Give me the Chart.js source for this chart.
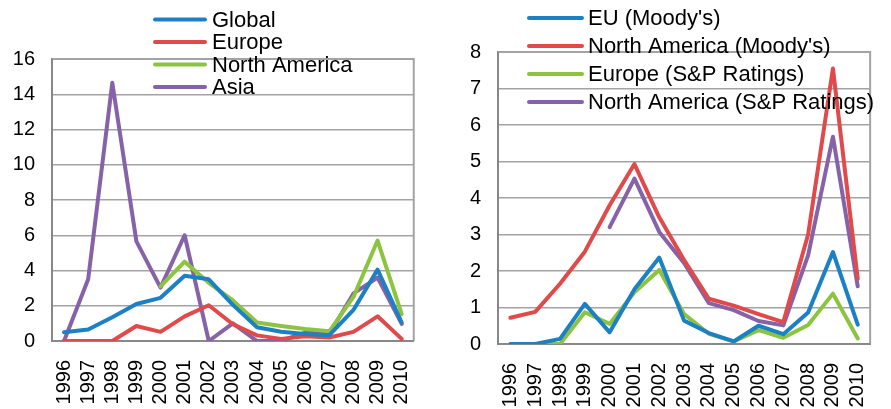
<!DOCTYPE html>
<html><head><meta charset="utf-8">
<script src="https://cdn.jsdelivr.net/npm/chart.js@4/dist/chart.umd.min.js"></script>
<style>
html,body{margin:0;padding:0;background:#fff;overflow:hidden;width:891px;height:409px;position:relative;font-family:"Liberation Sans",Arial,sans-serif;}
#c1{position:absolute;left:0;top:0;}
#c2{position:absolute;left:445px;top:0;}
#title{position:absolute;left:385px;top:-22px;font:bold 20px "Liberation Sans",Arial,sans-serif;white-space:nowrap;color:#000;}
</style>
</head><body>
<div id="title">(% p.a.)</div>
<canvas id="c1" width="445" height="409"></canvas>
<canvas id="c2" width="456" height="409"></canvas>
<script>
const years = ['1996','1997','1998','1999','2000','2001','2002','2003','2004','2005','2006','2007','2008','2009','2010'];

// Left chart
const leftLabels = ['Global','Europe','North America','Asia'];
const globalRates = [0.5,0.65,1.35,2.1,2.45,3.7,3.5,2.05,0.78,0.52,0.4,0.33,1.76,4.05,1.05];
const europeRates = [0,0,0,0.85,0.52,1.4,2.03,0.95,0.32,0.12,0.27,0.2,0.52,1.4,0.12];
const northAmericaRates = [null,null,null,null,3.1,4.5,3.3,2.3,1.05,0.85,0.68,0.55,2.5,5.7,1.52];
const asiaRates = [0,3.5,14.65,5.65,3.03,6.0,0,1.0,0,0,0.48,0.4,2.7,3.6,0.97];

// Right chart
const rightLabels = ["EU (Moody's)","North America (Moody's)","Europe (S&P Ratings)","North America (S&P Ratings)"];
const euMoodys = [0,0,0.14,1.1,0.32,1.5,2.37,0.64,0.3,0.07,0.5,0.27,0.86,2.52,0.53];
const naMoodys = [0.72,0.88,1.65,2.53,3.8,4.93,3.47,2.3,1.24,1.05,0.82,0.6,3.0,7.55,1.79];
const europeSP = [0,0,0,0.87,0.55,1.42,2.03,0.82,0.28,0.07,0.38,0.17,0.52,1.38,0.15];
const naSP = [null,null,null,null,3.2,4.53,3.07,2.22,1.12,0.93,0.63,0.51,2.43,5.68,1.58];

const COLORS = ['#1b80c4','#e04a4a','#8cc43f','#8662a8'];
const FONT = '"Liberation Sans", Arial, sans-serif';

const boxPlugin = {
  id: 'areaBox',
  beforeDatasetsDraw(chart) {
    const a = chart.chartArea, ctx = chart.ctx;
    ctx.save();
    ctx.strokeStyle = '#a3a3a3';
    ctx.lineWidth = 2;
    ctx.beginPath();
    ctx.moveTo(a.left, a.top); ctx.lineTo(a.right, a.top); ctx.lineTo(a.right, a.bottom);
    ctx.stroke();
    ctx.strokeStyle = '#888888';
    ctx.beginPath();
    ctx.moveTo(a.left, a.top); ctx.lineTo(a.left, a.bottom); ctx.lineTo(a.right, a.bottom);
    ctx.stroke();
    ctx.restore();
  }
};

const legendPlugin = {
  id: 'overlayLegend',
  afterDraw(chart, args, opts) {
    const ctx = chart.ctx;
    ctx.save();
    chart.data.datasets.forEach((ds, i) => {
      const y = opts.y0 + i * opts.dy;
      ctx.strokeStyle = ds.borderColor;
      ctx.lineWidth = 4;
      ctx.lineCap = 'round';
      ctx.beginPath();
      ctx.moveTo(opts.x1, y); ctx.lineTo(opts.x2, y);
      ctx.stroke();
      ctx.fillStyle = '#000';
      ctx.font = opts.size + 'px ' + FONT;
      ctx.textBaseline = 'middle';
      ctx.textAlign = 'left';
      ctx.fillText(ds.label, opts.tx, y + 1);
    });
    ctx.restore();
  }
};

function makeDatasets(labels, series) {
  return series.map((d, i) => ({
    label: labels[i], data: d, borderColor: COLORS[i], backgroundColor: COLORS[i],
    borderWidth: 4, pointRadius: 0, tension: 0, borderJoinStyle: 'round', borderCapStyle: 'round', fill: false
  }));
}

function makeChart(id, labels, series, yMax, step, yW, xH, pad, leg) {
  return new Chart(document.getElementById(id), {
    type: 'line',
    data: { labels: years, datasets: makeDatasets(labels, series) },
    options: {
      responsive: false, animation: false,
      layout: { padding: pad },
      plugins: { legend: { display: false }, tooltip: { enabled: false }, overlayLegend: leg },
      scales: {
        x: {
          offset: true,
          grid: { display: false, drawTicks: false },
          border: { display: true, color: '#888888', width: 2 },
          ticks: { autoSkip: false, maxRotation: 90, minRotation: 90, padding: 19, color: '#000', font: { size: 20, family: FONT } },
          afterFit(s) { s.height = xH; }
        },
        y: {
          min: 0, max: yMax,
          grid: { color: '#a3a3a3', lineWidth: 1.5, drawTicks: false },
          border: { display: true, color: '#888888', width: 2 },
          ticks: { stepSize: step, padding: 17, color: '#000', font: { size: 20, family: FONT } },
          afterFit(s) { s.width = yW; }
        }
      }
    },
    plugins: [boxPlugin, legendPlugin]
  });
}

makeChart('c1', leftLabels, [globalRates, europeRates, northAmericaRates, asiaRates], 16, 2, 52, 68,
  { top: 59, right: 9, left: 0, bottom: 0 },
  { x1: 155, x2: 205, tx: 212, y0: 19.5, dy: 22.5, size: 22 });
makeChart('c2', rightLabels, [euMoodys, naMoodys, europeSP, naSP], 8, 1, 53, 65,
  { top: 52, right: 8, left: 0, bottom: 0 },
  { x1: 84, x2: 137, tx: 143, y0: 18, dy: 28, size: 22 });
</script>
</body></html>
